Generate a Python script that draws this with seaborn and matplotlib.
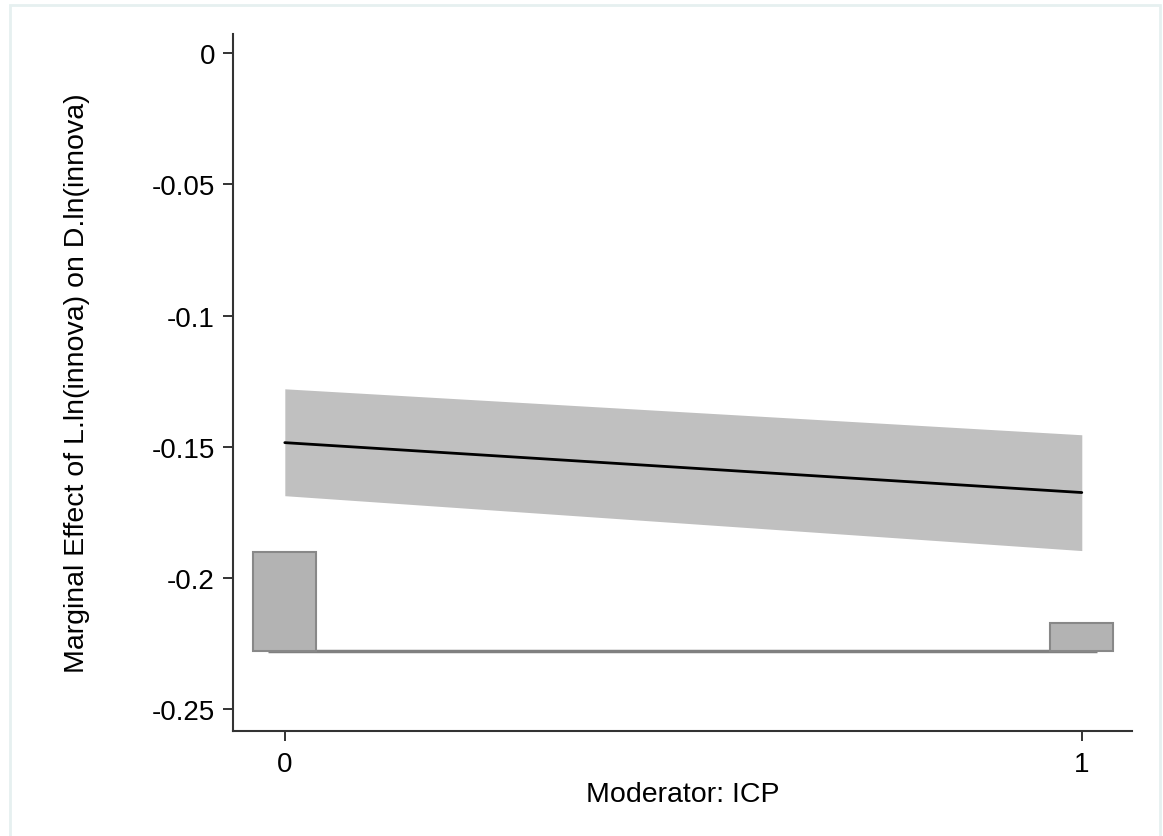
import numpy as np
import pandas as pd
import matplotlib
matplotlib.use("Agg")
import matplotlib.pyplot as plt
import seaborn as sns
from matplotlib.patches import Rectangle

# ---- data ----
moderator = [0, 1]
effect = [-0.1484, -0.1674]
ci_upper = [-0.1279, -0.1454]
ci_lower = [-0.1686, -0.1895]

hist_x = [0, 1]
hist_top = [-0.1899, -0.2169]
hist_base = -0.2279
base_span = [-0.021, 1.019]

yticks = [0, -0.05, -0.1, -0.15, -0.2, -0.25]
ytick_labels = ["0", "-0.05", "-0.1", "-0.15", "-0.2", "-0.25"]
xticks = [0, 1]
xtick_labels = ["0", "1"]

sns.set_style("white")
plt.rcParams['font.family'] = ['Liberation Sans', 'DejaVu Sans']

fig = plt.figure(figsize=(11.63, 8.37), dpi=100)
# faint outer frame
fig.patches.append(Rectangle((10/1163, -0.01), (1160-10)/1163, 1.01 - 6/837,
                             transform=fig.transFigure, fill=False,
                             edgecolor="#e6f0f0", linewidth=2))
ax = fig.add_axes([233/1163, 1-732/837, (1132-233)/1163, (732-35)/837])

df = pd.DataFrame({"x": moderator, "y": effect})
ax.fill_between(moderator, ci_lower, ci_upper, color="#c0c0c0", linewidth=0, zorder=1)
sns.lineplot(data=df, x="x", y="y", ax=ax, color="black", linewidth=2, zorder=3)

# histogram baseline and bars
ax.plot(base_span, [hist_base, hist_base], color="#808080", linewidth=2.5, zorder=2,
        solid_capstyle="butt")
heights = [t - hist_base for t in hist_top]
ax.bar(hist_x, heights, bottom=hist_base, width=0.079, color="#b3b3b3",
       edgecolor="#888888", linewidth=1.5, zorder=2)

ax.set_xlim(-0.065, 1.063)
ax.set_ylim(-0.2582, 0.0072)
ax.set_yticks(yticks)
ax.set_yticklabels(ytick_labels)
ax.set_xticks(xticks)
ax.set_xticklabels(xtick_labels)

for s in ["top", "right"]:
    ax.spines[s].set_visible(False)
for s in ["left", "bottom"]:
    ax.spines[s].set_color("#333333")
    ax.spines[s].set_linewidth(1.5)

ax.tick_params(axis="both", which="major", direction="out", length=7.5, width=1.4,
               color="#333333", labelsize=20, labelcolor="black",
               bottom=True, left=True)
ax.tick_params(axis="y", pad=5.5)
ax.tick_params(axis="x", pad=7)

ax.set_xlabel("Moderator: ICP", fontsize=20.5, labelpad=3, color="black")
ax.set_ylabel("Marginal Effect of L.ln(innova) on D.ln(innova)", fontsize=20.5,
              labelpad=44, color="black")

fig.savefig("out.png", dpi=100)
